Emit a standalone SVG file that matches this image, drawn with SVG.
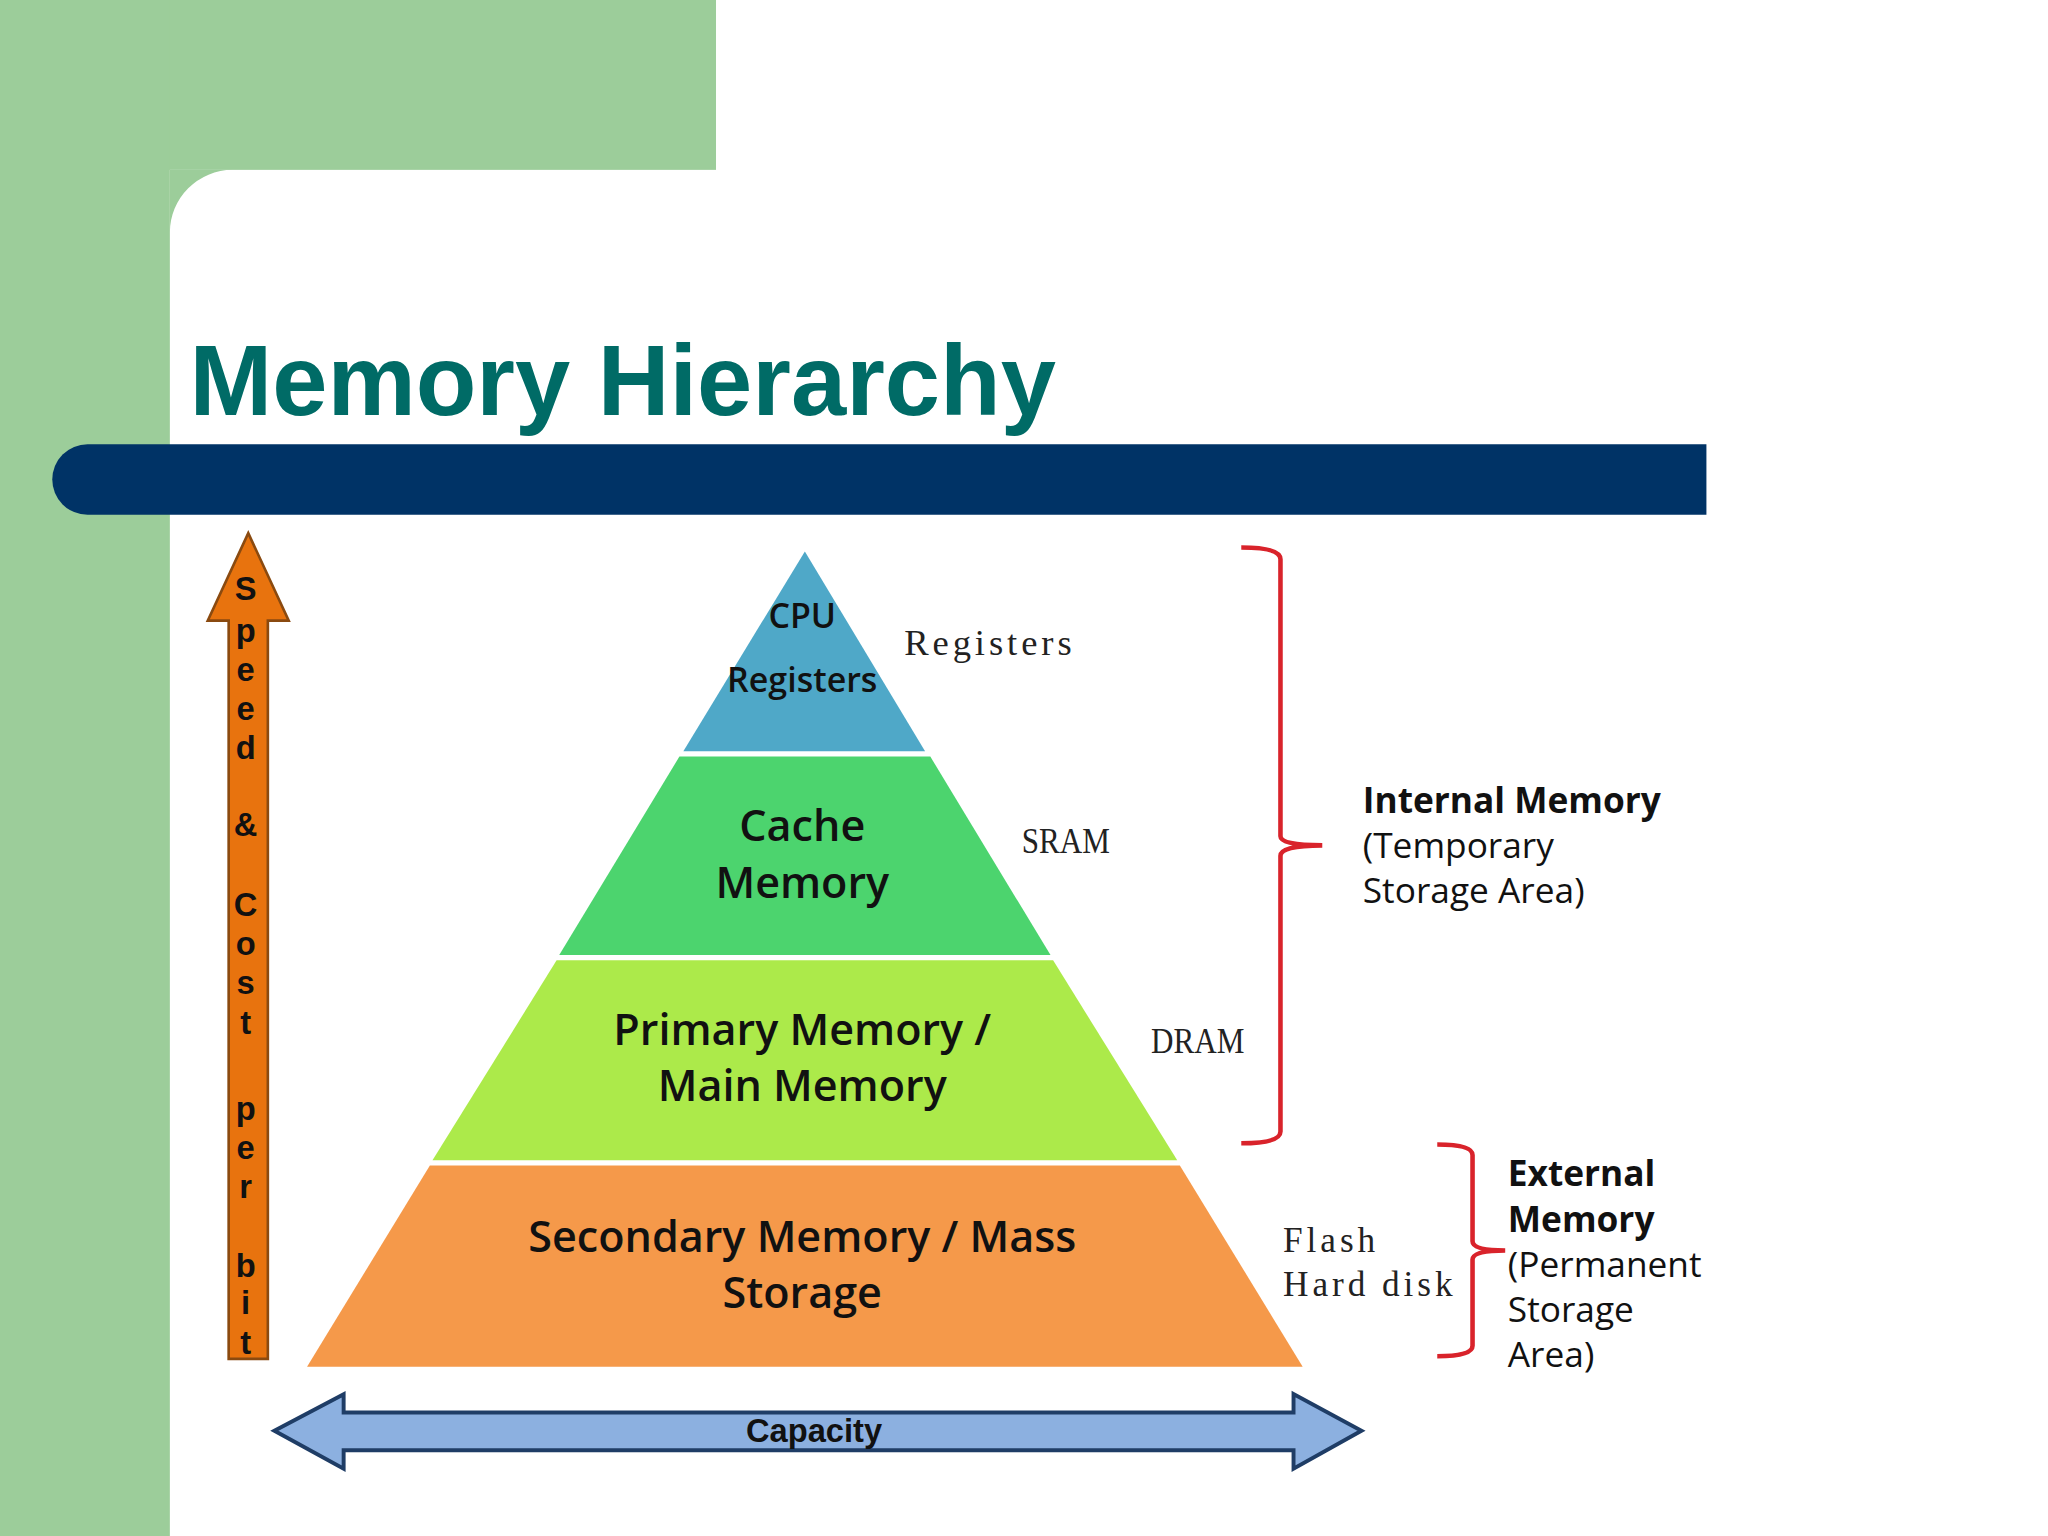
<svg xmlns="http://www.w3.org/2000/svg" width="2048" height="1536" viewBox="0 0 2048 1536">
<style>
.lbl{font-family:"Open Sans","Liberation Sans",sans-serif;font-weight:600;fill:#111;text-anchor:middle}
.ser{font-family:"Liberation Serif","DejaVu Serif",serif;fill:#222}
.side{font-family:"Open Sans","Liberation Sans",sans-serif;fill:#111;font-size:27px}
.sp{font-family:"Liberation Sans",sans-serif;font-weight:900;font-size:25px;fill:#111;text-anchor:middle}
.br{fill:none;stroke:#d9232b;stroke-width:3.5}
</style>
<rect width="2048" height="1536" fill="#ffffff"/>
<g transform="scale(1.3066)">
<g id="background">
<rect x="0" y="0" width="548" height="130" fill="#9ccd9a"/>
<path d="M0 0H130V1180H0Z" fill="#9ccd9a"/>
<path d="M130 130H178A48 48 0 0 0 130 178Z" fill="#9ccd9a"/>
<path d="M67 340H1306V394H67A27 27 0 0 1 67 340Z" fill="#003366"/>
<text x="145" y="318" font-family="Liberation Sans,Arial,sans-serif" font-weight="bold" font-size="76" fill="#006b66">Memory Hierarchy</text>
</g>
<g id="speed-arrow">
<path d="M190 408L221 475H205V1040H175V475H159Z" fill="#e8730e" stroke="#8a4a10" stroke-width="2"/>
<text class="sp"><tspan x="188" y="459">S</tspan><tspan x="188" y="491">p</tspan><tspan x="188" y="521">e</tspan><tspan x="188" y="551">e</tspan><tspan x="188" y="581">d</tspan><tspan x="188" y="640">&amp;</tspan><tspan x="188" y="701">C</tspan><tspan x="188" y="731">o</tspan><tspan x="188" y="761">s</tspan><tspan x="188" y="791">t</tspan><tspan x="188" y="857">p</tspan><tspan x="188" y="887">e</tspan><tspan x="188" y="917">r</tspan><tspan x="188" y="977">b</tspan><tspan x="188" y="1006">i</tspan><tspan x="188" y="1036">t</tspan></text>
</g>
<g id="layer-registers">
<path d="M616 422L708 575H523Z" fill="#4fa8c8"/>
<text class="lbl" font-size="26"><tspan x="614" y="481">CPU</tspan><tspan x="614" y="530">Registers</tspan></text>
<text class="ser" x="692" y="501" font-size="28" letter-spacing="3">Registers</text>
</g>
<g id="layer-cache">
<path d="M520 579H712L804 731H428Z" fill="#4cd46e"/>
<text class="lbl" font-size="33"><tspan x="614" y="644">Cache</tspan><tspan x="614" y="687">Memory</tspan></text>
<text class="ser" font-size="28" transform="translate(782 653) scale(0.85 1)">SRAM</text>
</g>
<g id="layer-primary">
<path d="M426 735H806L901 888H331Z" fill="#acea4a"/>
<text class="lbl" font-size="33"><tspan x="614" y="800">Primary Memory /</tspan><tspan x="614" y="843">Main Memory</tspan></text>
<text class="ser" font-size="28" transform="translate(881 806) scale(0.85 1)">DRAM</text>
</g>
<g id="layer-secondary">
<path d="M329 892H903L997 1046H235Z" fill="#f5994a"/>
<text class="lbl" font-size="33"><tspan x="614" y="958">Secondary Memory / Mass</tspan><tspan x="614" y="1001">Storage</tspan></text>
<text class="ser" font-size="27" letter-spacing="3"><tspan x="982" y="958">Flash</tspan><tspan x="982" y="992">Hard disk</tspan></text>
</g>
<g id="connectors">
<path class="br" d="M950 419Q980 419 980 428V640Q980 647 1012 647Q980 647 980 655V866Q980 875 950 875"/>
<path class="br" d="M1100 876Q1127 876 1127 884V950Q1127 957 1152 957Q1127 957 1127 964V1030Q1127 1038 1100 1038"/>
</g>
<g id="internal-label">
<text class="side" font-size="28"><tspan x="1043" y="622" font-weight="bold">Internal Memory</tspan><tspan x="1043" y="657">(Temporary</tspan><tspan x="1043" y="691">Storage Area)</tspan></text>
</g>
<g id="external-label">
<text class="side" font-size="28"><tspan x="1154" y="908" font-weight="bold">External</tspan><tspan x="1154" y="943" font-weight="bold">Memory</tspan><tspan x="1154" y="977">(Permanent</tspan><tspan x="1154" y="1012">Storage</tspan><tspan x="1154" y="1046">Area)</tspan></text>
</g>
<g id="capacity-arrow">
<path d="M210 1095L263 1067V1081H990V1067L1042 1095L990 1124V1110H263V1124Z" fill="#8cb0e0" stroke="#1f3d66" stroke-width="3"/>
<text x="623" y="1104" font-family="Liberation Sans,sans-serif" font-weight="bold" font-size="25" fill="#111" text-anchor="middle">Capacity</text>
</g>
</g>
</svg>
